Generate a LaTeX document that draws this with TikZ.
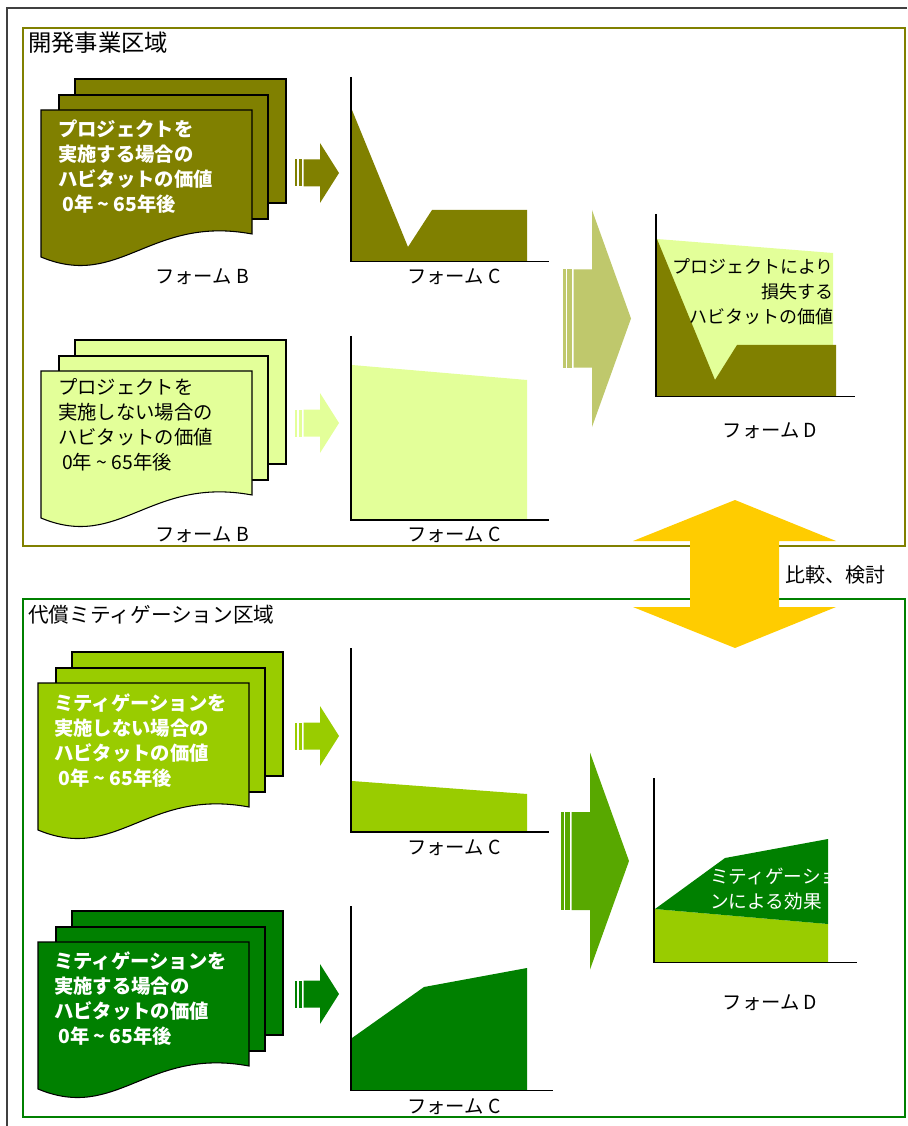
\documentclass[tikz,border=0pt]{standalone}
\usepackage{fontspec}
\setmainfont{Noto Sans CJK JP}
\definecolor{olv}{HTML}{808000}
\definecolor{lgt}{HTML}{E3FF99}
\definecolor{olvarrow}{HTML}{BFC86C}
\definecolor{brg}{HTML}{99CC00}
\definecolor{dkg}{HTML}{008000}
\definecolor{midg}{HTML}{58A800}
\definecolor{yel}{HTML}{FFCC00}
\definecolor{framec}{HTML}{404040}
\tikzset{
  sheet/.style={draw=black, line width=0.8pt},
  axisline/.style={draw=black, line width=1pt},
  formlbl/.style={font=\fontsize{14.5}{16}\selectfont, inner sep=0pt},
  titlelbl/.style={font=\fontsize{15.5}{18}\selectfont, inner sep=0pt, anchor=west},
  doctext/.style={font=\fontsize{14.5}{18.75}\selectfont\bfseries, inner sep=0pt, anchor=north west, align=left},
  plaintext/.style={font=\fontsize{13.5}{18.75}\selectfont, inner sep=0pt, align=left},
}
\newcommand\DocStack[3]{%
  \begin{scope}[shift={(#1,#2)}]
    \path[sheet, fill=#3] (34,-31) rectangle (245,93);
    \path[sheet, fill=#3] (18,-15) rectangle (227,109);
    \path[sheet, fill=#3] (0,0) -- (211,0) -- (211,124) .. controls (109,105) and (79,180) .. (0,147) -- cycle;
  \end{scope}}
\newcommand\SmallArrow[2]{%
  \begin{scope}[shift={(295,#1)}]
    \fill[#2] (0,-13.5) rectangle (2,13.5);
    \fill[#2] (3.5,-13.5) rectangle (7,13.5);
    \fill[#2] (8.5,-13.5) -- (25,-13.5) -- (25,-30) -- (44,0) -- (25,30) -- (25,13.5) -- (8.5,13.5) -- cycle;
  \end{scope}}
\newcommand\BigArrow[3]{%
  \begin{scope}[shift={(#1,#2)}]
    \fill[#3] (0,-49) rectangle (3,49);
    \fill[#3] (4.3,-49) rectangle (9,49);
    \fill[#3] (10.5,-49) -- (29,-49) -- (29,-108.5) -- (68,0) -- (29,108.5) -- (29,49) -- (10.5,49) -- cycle;
  \end{scope}}
\begin{document}
\begin{tikzpicture}[x=0.75pt,y=-0.75pt]
\useasboundingbox (0,0) rectangle (907,1126);
% outer frame
\draw[framec, line width=0.8pt] (907,8) -- (7,8) -- (7,1126);
% section boxes
\draw[olv, line width=1.6pt] (23,28) rectangle (905,546);
\draw[dkg, line width=1.6pt] (23,599) rectangle (905,1117);
\node[titlelbl, font=\fontsize{17.5}{20}\selectfont] (t1) at (28,43) {開発事業区域};
\node[titlelbl] (t2) at (28,615) {代償ミティゲーション区域};

% ---------- top section ----------
\DocStack{41}{110}{olv}
\node[doctext, text=white] (b1) at (58,119) {プロジェクトを\\実施する場合の\\ハビタットの価値\\\hspace{3pt}0年 \textasciitilde{} 65年後};
\node[formlbl] (fb1) at (202,277) {フォーム B};
\SmallArrow{173}{olv}
\fill[olv] (352,110) -- (408,247) -- (432,210) -- (527,210) -- (527,261) -- (352,261) -- cycle;
\draw[axisline] (351,77) -- (351,261.5) -- (549,261.5);
\node[formlbl] (fc1) at (454,277) {フォーム C};

\DocStack{41}{371}{lgt}
\node[plaintext, font=\fontsize{14.5}{18.75}\selectfont, anchor=north west] (b2) at (58,378.5) {プロジェクトを\\実施しない場合の\\ハビタットの価値\\\hspace{3pt}0年 \textasciitilde{} 65年後};
\node[formlbl] (fb2) at (202,535) {フォーム B};
\SmallArrow{423}{lgt}
\fill[lgt] (352,365) -- (527,380) -- (527,520) -- (352,520) -- cycle;
\draw[axisline] (351,336) -- (351,520) -- (549,520);
\node[formlbl] (fc2) at (454,535) {フォーム C};

\BigArrow{563}{318.5}{olvarrow}
% form D top
\fill[lgt] (657,239) -- (833,253) -- (833,396) -- (657,396) -- cycle;
\fill[olv] (657,239) -- (715,380) -- (737,345) -- (836,345) -- (836,396) -- (657,396) -- cycle;
\draw[axisline] (656,214) -- (656,396.5) -- (855,396.5);
\node[plaintext, align=right, anchor=north east] (d1txt) at (834,258.5) {プロジェクトにより\\損失する\\ハビタットの価値};
\node[formlbl] (fd1) at (770,431) {フォーム D};

% ---------- comparison arrow ----------
\fill[yel] (735,500) -- (836,541) -- (779,541) -- (779,607) -- (836,607) -- (735,648) -- (633,607) -- (690,607) -- (690,541) -- (633,541) -- cycle;
\node[formlbl, font=\fontsize{15}{16}\selectfont] (cmp) at (835,575) {比較、検討};

% ---------- bottom section ----------
\DocStack{38}{683}{brg}
\node[doctext, text=white] (b3) at (54,693) {ミティゲーションを\\実施しない場合の\\ハビタットの価値\\\hspace{3pt}0年 \textasciitilde{} 65年後};
\SmallArrow{736}{brg}
\fill[brg] (352,781) -- (527,794) -- (527,832) -- (352,832) -- cycle;
\draw[axisline] (351,648) -- (351,832) -- (549,832);
\node[formlbl] (fc3) at (454,848) {フォーム C};

\DocStack{38}{942}{dkg}
\node[doctext, text=white] (b4) at (54,951) {ミティゲーションを\\実施する場合の\\ハビタットの価値\\\hspace{3pt}0年 \textasciitilde{} 65年後};
\SmallArrow{994}{dkg}
\fill[dkg] (352,1038) -- (424,987) -- (527,968) -- (527,1090) -- (352,1090) -- cycle;
\draw[axisline] (351,906) -- (351,1090.5) -- (553,1090.5);
\node[formlbl] (fc4) at (454,1107) {フォーム C};

\BigArrow{561}{861}{midg}
% form D bottom
\fill[brg] (655,909) -- (828,924) -- (828,962) -- (655,962) -- cycle;
\fill[dkg] (655,909) -- (725,858) -- (828,839) -- (828,924) -- cycle;
\begin{scope}
\clip (655,830) rectangle (829,962);
\node[plaintext, font=\fontsize{14}{18.75}\selectfont, text=white, anchor=north west] (d2txt) at (710,868) {ミティゲーショ\\ンによる効果};
\end{scope}
\draw[axisline] (654,778) -- (654,962.5) -- (857,962.5);
\node[formlbl] (fd2) at (770,1003) {フォーム D};
\end{tikzpicture}
\end{document}
